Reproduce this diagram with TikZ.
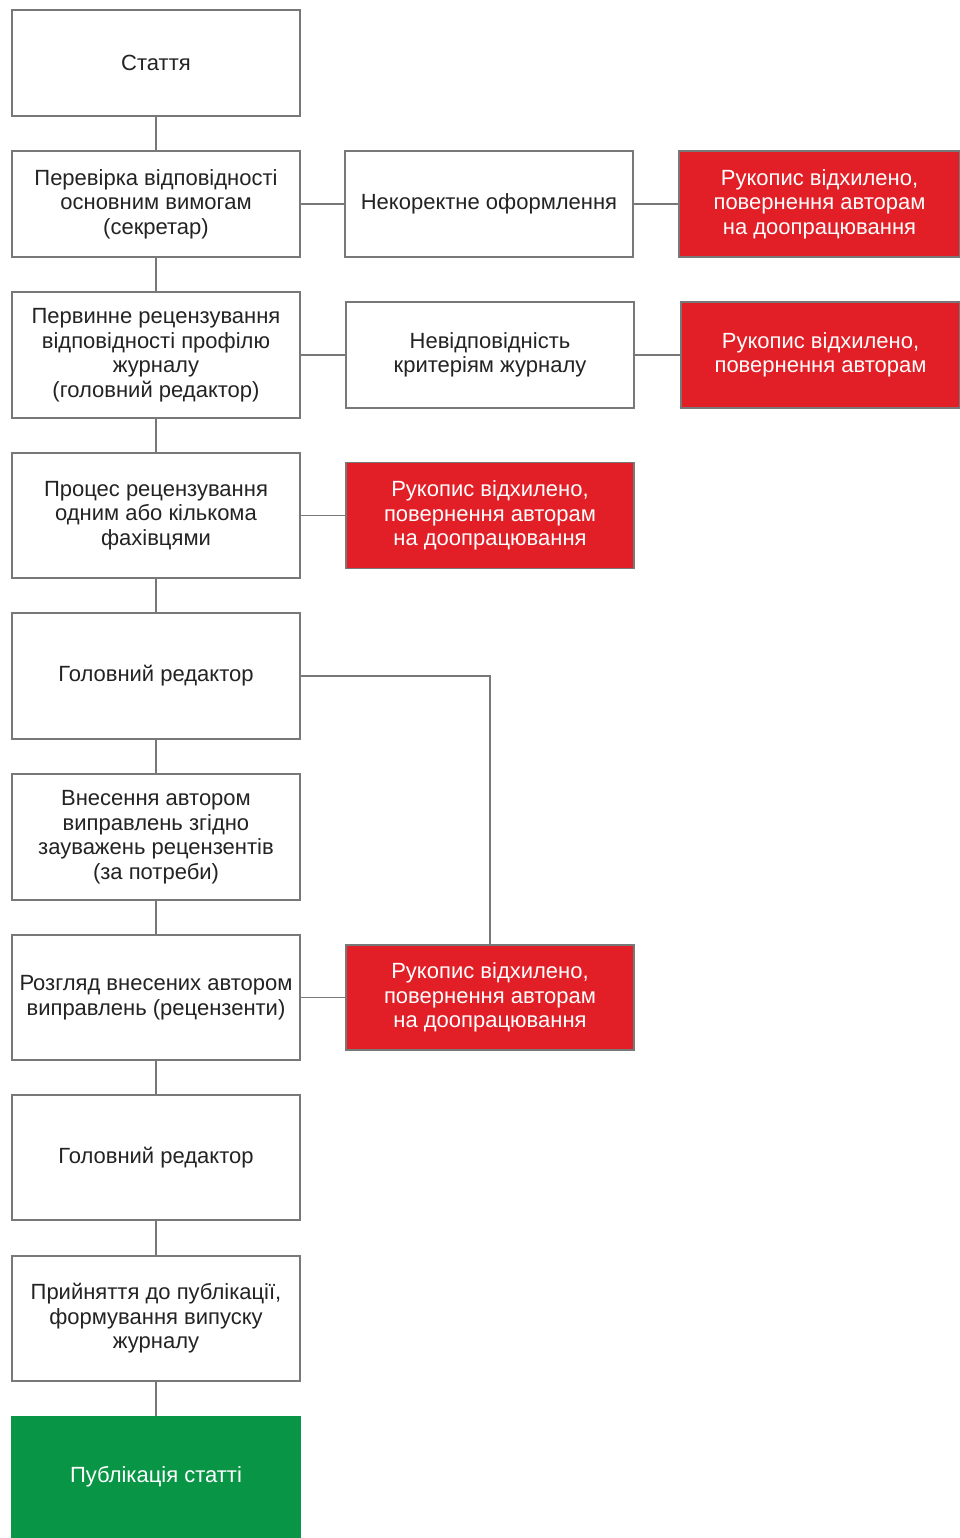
\documentclass[tikz,border=0pt]{standalone}
\usepackage{fontspec}
\setmainfont{Liberation Sans}
\definecolor{bordergray}{RGB}{120,120,120}
\definecolor{txtgray}{RGB}{35,35,35}
\definecolor{rejred}{RGB}{226,30,38}
\definecolor{pubgreen}{RGB}{8,150,70}
\tikzset{
  box/.style={draw=bordergray, line width=1.4pt, fill=white, inner sep=0pt, outer sep=0pt,
    minimum width=288pt, align=center, text=txtgray,
    font=\fontsize{22}{24.5}\selectfont},
  redbox/.style={box, fill=rejred, text=white},
  greenbox/.style={box, draw=none, fill=pubgreen, text=white},
  conn/.style={draw=bordergray, line width=1.4pt}
}
\begin{document}
\begin{tikzpicture}[x=1pt,y=-1pt]
\useasboundingbox[fill=white] (0,0) rectangle (959,1538);
% left column
\node[box, minimum height=106pt] (b1) at (156,63) {Стаття};
\node[box, minimum height=106pt] (b2) at (156,204) {Перевірка відповідності\\основним вимогам\\(секретар)};
\node[box, minimum height=126pt] (b3) at (156,355) {Первинне рецензування\\відповідності профілю\\журналу\\(головний редактор)};
\node[box, minimum height=125pt] (b4) at (156,515.5) {Процес рецензування\\одним або кількома\\фахівцями};
\node[box, minimum height=126pt] (b5) at (156,676) {Головний редактор};
\node[box, minimum height=126pt] (b6) at (156,837) {Внесення автором\\виправлень згідно\\зауважень рецензентів\\(за потреби)};
\node[box, minimum height=125pt] (b7) at (156,997.5) {Розгляд внесених автором\\виправлень (рецензенти)};
\node[box, minimum height=125pt] (b8) at (156,1157.5) {Головний редактор};
\node[box, minimum height=125pt] (b9) at (156,1318.5) {Прийняття до публікації,\\формування випуску\\журналу};
\node[greenbox, minimum height=122pt, minimum width=289.4pt] (b10) at (156,1477) {Публікація статті};
% middle column
\node[box, minimum height=106pt] (m1) at (489,204) {Некоректне оформлення};
\node[box, minimum height=106pt] (m2) at (490,355) {Невідповідність\\критеріям журналу};
\node[redbox, minimum height=106pt] (r3) at (490,515.5) {Рукопис відхилено,\\повернення авторам\\на доопрацювання};
\node[redbox, minimum height=105pt] (r4) at (490,997.5) {Рукопис відхилено,\\повернення авторам\\на доопрацювання};
% right column
\node[redbox, minimum height=106pt, minimum width=281pt] (r1) at (819.5,204) {Рукопис відхилено,\\повернення авторам\\на доопрацювання};
\node[redbox, minimum height=106pt, minimum width=279pt] (r2) at (820.5,355) {Рукопис відхилено,\\повернення авторам};
% connectors
\draw[conn] (b1.south) -- (b2.north);
\draw[conn] (b2.south) -- (b3.north);
\draw[conn] (b3.south) -- (b4.north);
\draw[conn] (b4.south) -- (b5.north);
\draw[conn] (b5.south) -- (b6.north);
\draw[conn] (b6.south) -- (b7.north);
\draw[conn] (b7.south) -- (b8.north);
\draw[conn] (b8.south) -- (b9.north);
\draw[conn] (b9.south) -- (b10.north);
\draw[conn] (b2.east) -- (m1.west);
\draw[conn] (m1.east) -- (r1.west);
\draw[conn] (b3.east) -- (m2.west);
\draw[conn] (m2.east) -- (r2.west);
\draw[conn] (b4.east) -- (r3.west);
\draw[conn] (b5.east) -| (r4.north);
\draw[conn] (b7.east) -- (r4.west);
\end{tikzpicture}
\end{document}
